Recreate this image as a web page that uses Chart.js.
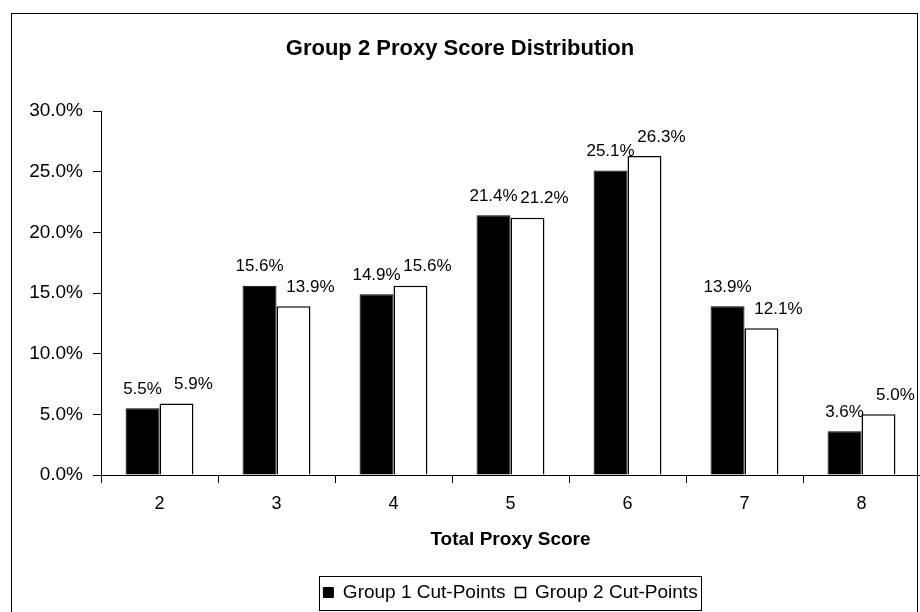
<!DOCTYPE html>
<html>
<head>
<meta charset="utf-8">
<script src="https://cdn.jsdelivr.net/npm/chart.js@4.4.1/dist/chart.umd.min.js"></script>
<style>
  html, body { margin: 0; padding: 0; background: #fff; }
  #wrap { width: 920px; height: 612px; }
</style>
</head>
<body>
<div id="wrap"><canvas id="proxyChart" width="920" height="612"></canvas></div>
<script>
const scores = ["2", "3", "4", "5", "6", "7", "8"];
const group1 = [5.5, 15.6, 14.9, 21.4, 25.1, 13.9, 3.6];
const group2 = [5.9, 13.9, 15.6, 21.2, 26.3, 12.1, 5.0];
const yTicks = [0, 5, 10, 15, 20, 25, 30];

const FONT = "'Liberation Sans', Arial, sans-serif";

// frame round the whole picture
const framePlugin = {
  id: "frame",
  beforeDraw(chart) {
    const ctx = chart.ctx;
    ctx.save();
    ctx.fillStyle = "#fff";
    ctx.fillRect(0, 0, chart.width, chart.height);
    ctx.strokeStyle = "#000";
    ctx.lineWidth = 1;
    ctx.strokeRect(11.5, 13.5, 906, 640);
    ctx.restore();
  },
};

// put the legend under the middle of the plot
const legendShift = {
  id: "legendShift",
  afterLayout(chart) {
    const lg = chart.legend;
    const mid = (chart.chartArea.left + chart.chartArea.right) / 2;
    const dx = mid - (lg.left + lg.right) / 2;
    lg.left += dx;
    lg.right += dx;
  },
};

// value labels over the bars
const labelPlugin = {
  id: "barLabels",
  afterDatasetsDraw(chart) {
    const ctx = chart.ctx;
    ctx.save();
    ctx.font = "17px " + FONT;
    ctx.fillStyle = "#000";
    ctx.textAlign = "center";
    ctx.textBaseline = "middle";
    chart.data.datasets.forEach((ds, i) => {
      const dx = ds.labelShift || 0;
      chart.getDatasetMeta(i).data.forEach((bar, j) => {
        ctx.fillText(ds.data[j].toFixed(1) + "%", bar.x + dx, bar.y - 19);
      });
    });
    ctx.restore();
  },
};

// box round the legend
const legendBoxPlugin = {
  id: "legendBox",
  afterDraw(chart) {
    const boxes = chart.legend.legendHitBoxes;
    if (!boxes || !boxes.length) return;
    const left = Math.min(...boxes.map((b) => b.left)) - 4;
    const right = Math.max(...boxes.map((b) => b.left + b.width)) + 4;
    const mid = boxes[0].top + boxes[0].height / 2;
    const ctx = chart.ctx;
    ctx.save();
    ctx.strokeStyle = "#000";
    ctx.lineWidth = 1;
    ctx.strokeRect(Math.round(left) + 0.5, Math.round(mid - 17) + 0.5,
      Math.round(right - left), 34);
    ctx.restore();
  },
};

new Chart(document.getElementById("proxyChart"), {
  type: "bar",
  data: {
    labels: scores,
    datasets: [
      {
        label: "Group 1 Cut-Points",
        data: group1,
        backgroundColor: "#000",
        borderColor: "#000",
        borderWidth: 1,
      },
      {
        label: "Group 2 Cut-Points",
        data: group2,
        backgroundColor: "#fff",
        borderColor: "#000",
        borderWidth: 1.5,
        labelShift: 17,
      },
    ],
  },
  options: {
    responsive: false,
    devicePixelRatio: 1,
    animation: false,
    layout: { padding: { left: 0, right: 0, top: 0, bottom: 0 } },
    datasets: {
      bar: { categoryPercentage: 0.58, barPercentage: 1.0 },
    },
    plugins: {
      title: {
        display: true,
        text: "Group 2 Proxy Score Distribution",
        color: "#000",
        font: { family: FONT, size: 22, weight: "bold" },
        padding: { top: 36, bottom: 48.6 },
      },
      legend: {
        display: true,
        position: "bottom",
        labels: {
          color: "#000",
          font: { family: FONT, size: 19 },
          boxWidth: 10,
          boxHeight: 10,
          padding: 10,
        },
      },
      tooltip: { enabled: false },
    },
    scales: {
      x: {
        grid: {
          display: true,
          offset: true,
          drawOnChartArea: false,
          drawTicks: true,
          tickLength: 8,
          color: "#000",
        },
        border: { display: true, color: "#000", width: 1 },
        ticks: { color: "#000", font: { family: FONT, size: 18 }, padding: 10 },
        title: {
          display: true,
          text: "Total Proxy Score",
          color: "#000",
          font: { family: FONT, size: 19, weight: "bold" },
          padding: { top: 4, bottom: 21.6 },
        },
      },
      y: {
        min: 0,
        max: 30,
        afterFit(scale) {
          scale.width = 101;
        },
        afterBuildTicks(scale) {
          scale.ticks = yTicks.map((v) => ({ value: v }));
        },
        grid: {
          display: true,
          drawOnChartArea: false,
          drawTicks: true,
          tickLength: 8,
          color: "#000",
        },
        border: { display: true, color: "#000", width: 1 },
        ticks: {
          color: "#000",
          font: { family: FONT, size: 19 },
          padding: 10,
          callback: (v) => Number(v).toFixed(1) + "%",
        },
      },
    },
  },
  plugins: [framePlugin, legendShift, labelPlugin, legendBoxPlugin],
});
</script>
</body>
</html>
